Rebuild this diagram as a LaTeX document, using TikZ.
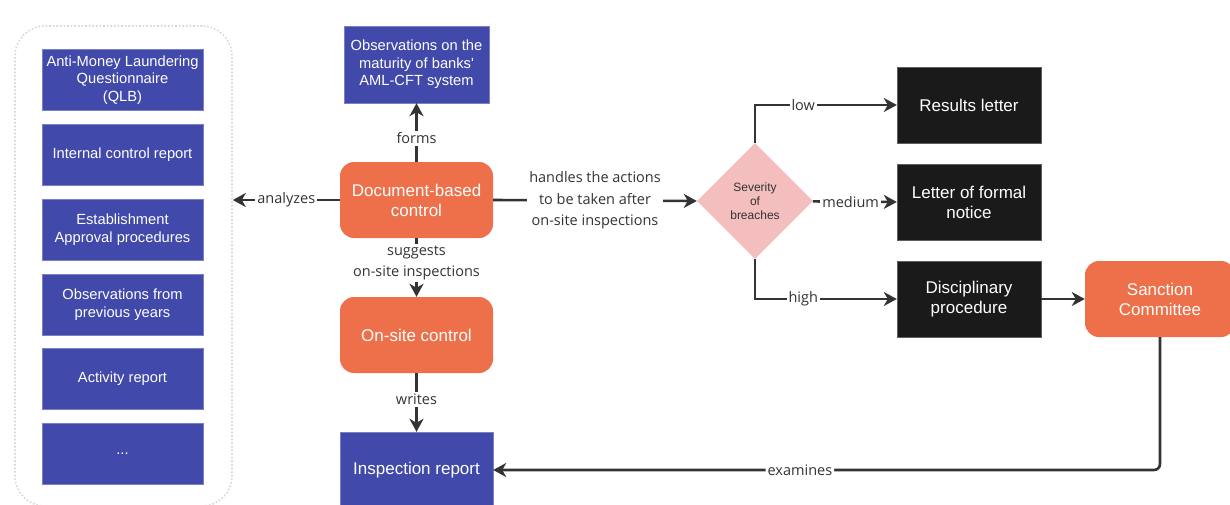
\documentclass[tikz,border=0pt]{standalone}
\usepackage{fontspec}
\setmainfont{Liberation Sans}[Ligatures=TeXOff]
\newfontfamily\lblfont{Open Sans}
\usetikzlibrary{shapes.geometric, arrows.meta, positioning}
\definecolor{docblue}{RGB}{65,73,170}
\definecolor{ctrlorange}{RGB}{237,112,74}
\definecolor{sevpink}{RGB}{244,190,190}
\definecolor{outblack}{RGB}{26,26,26}
\definecolor{arrgray}{RGB}{51,51,51}
\definecolor{dotgray}{RGB}{215,215,215}
\tikzset{
  basebox/.style={rectangle,align=center,text=white,inner sep=2pt},
  docnode/.style={basebox,fill=docblue,draw=docblue!70,minimum width=161pt,minimum height=61pt,
    font=\fontsize{14.7}{17.5}\selectfont},
  ctrlnode/.style={basebox,fill=ctrlorange,rounded corners=14pt,minimum width=153pt,minimum height=76pt,
    font=\fontsize{17}{20}\selectfont},
  outnode/.style={basebox,fill=outblack,draw=outblack!70,minimum width=144pt,minimum height=76pt,
    font=\fontsize{17}{20}\selectfont},
  decnode/.style={diamond,fill=sevpink,aspect=1,inner sep=0pt,minimum size=116pt,align=center,
    text=black!80,font=\fontsize{12}{14}\selectfont},
  container/.style={rectangle,draw=dotgray,dotted,line width=1.6pt,rounded corners=30pt},
  arr/.style={-{Stealth[length=13pt,width=14pt,inset=4pt]},line width=2.6pt,color=arrgray},
  lbl/.style={fill=white,text=arrgray,align=center,inner sep=2pt,
    font=\lblfont\fontsize{14.5}{21.5}\selectfont}
}
\begin{document}
\begin{tikzpicture}[x=1pt,y=-1pt]
  \useasboundingbox[fill=white] (0,0) rectangle (1230,504);

  % documents analysed
  \node[container,minimum width=217pt,minimum height=480pt] (docs) at (123.5,266) {};
  \node[docnode] (qlb) at (122.5,80) {Anti-Money Laundering\\Questionnaire\\(QLB)};
  \node[docnode] (icr) at (122.5,155) {Internal control report};
  \node[docnode] (eap) at (122.5,229.5) {Establishment\\Approval procedures};
  \node[docnode] (ofp) at (122.5,304.5) {Observations from\\previous years};
  \node[docnode] (act) at (122.5,378.5) {Activity report};
  \node[docnode] (etc) at (122.5,453.5) {...};

  % controls
  \node[docnode,minimum width=145pt,minimum height=77pt] (obs) at (416.5,64.5)
      {Observations on the\\maturity of banks'\\AML-CFT system};
  \node[ctrlnode] (doc) at (416.5,200) {Document-based\\control};
  \node[ctrlnode] (onsite) at (416.5,335) {On-site control};
  \node[docnode,minimum width=153pt,minimum height=76pt,font=\fontsize{17}{20}\selectfont] (insp)
      at (416.5,470) {Inspection report};

  % severity and outcomes
  \node[decnode] (sev) at (755,201) {Severity\\of\\breaches};
  \node[outnode] (res) at (969,105) {Results letter};
  \node[outnode] (lfn) at (969,202.5) {Letter of formal\\notice};
  \node[outnode] (disc) at (969,299) {Disciplinary\\procedure};
  \node[ctrlnode,minimum width=150pt] (sanc) at (1160,299) {Sanction\\Committee};

  % connectors
  \draw[arr] (doc) -- node[lbl,pos=0.4] {forms} (obs);
  \draw[arr] (doc.west) -- node[lbl] {analyzes} (doc.west -| docs.east);
  \draw[arr] (doc.east) -- node[lbl] {handles the actions\\to be taken after\\on-site inspections} (sev.west);
  \draw[arr] (doc) -- node[lbl,pos=0.42] {suggests\\on-site inspections} (onsite);
  \draw[arr] (onsite) -- node[lbl,pos=0.45] {writes} (insp);
  \draw[arr] (sev.north) |- node[lbl,pos=0.67] {low} (res);
  \draw[arr] (sev) -- node[lbl,pos=0.45] {medium} (lfn);
  \draw[arr] (sev.south) |- node[lbl,pos=0.67] {high} (disc);
  \draw[arr] (disc) -- (sanc);
  \draw[arr,rounded corners=6pt] (sanc) |- node[lbl,pos=0.77] {examines} (insp);
\end{tikzpicture}
\end{document}
